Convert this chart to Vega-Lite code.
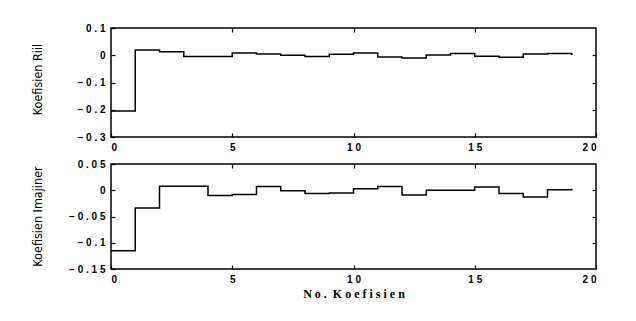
{
  "$schema": "https://vega.github.io/schema/vega-lite/v6.json",
  "background": "white",
  "padding": {"left": 30, "top": 22, "right": 10, "bottom": 5},
  "spacing": 5,
  "datasets": {
    "coef": [
      {"k": 0, "riil": -0.205, "imaj": -0.115},
      {"k": 1, "riil": 0.019, "imaj": -0.034},
      {"k": 2, "riil": 0.013, "imaj": 0.0075},
      {"k": 3, "riil": -0.005, "imaj": 0.0075},
      {"k": 4, "riil": -0.005, "imaj": -0.010},
      {"k": 5, "riil": 0.008, "imaj": -0.008},
      {"k": 6, "riil": 0.005, "imaj": 0.007},
      {"k": 7, "riil": 0.0, "imaj": -0.001},
      {"k": 8, "riil": -0.005, "imaj": -0.006},
      {"k": 9, "riil": 0.004, "imaj": -0.005},
      {"k": 10, "riil": 0.008, "imaj": 0.003},
      {"k": 11, "riil": -0.006, "imaj": 0.007},
      {"k": 12, "riil": -0.010, "imaj": -0.009},
      {"k": 13, "riil": 0.001, "imaj": 0.0},
      {"k": 14, "riil": 0.006, "imaj": 0.0},
      {"k": 15, "riil": -0.004, "imaj": 0.006},
      {"k": 16, "riil": -0.007, "imaj": -0.006},
      {"k": 17, "riil": 0.005, "imaj": -0.013},
      {"k": 18, "riil": 0.006, "imaj": 0.001},
      {"k": 19, "riil": 0.001, "imaj": 0.003}
    ]
  },
  "config": {
    "view": {"stroke": "black", "strokeWidth": 1.5},
    "axis": {
      "grid": false,
      "domain": false,
      "tickColor": "black",
      "tickSize": -4,
      "tickWidth": 1.2,
      "labelFont": "Liberation Sans",
      "labelFontWeight": "bold",
      "labelFontSize": 10,
      "labelColor": "black",
      "titleColor": "black"
    },
    "axisX": {"labelPadding": 9},
    "axisY": {"labelPadding": 10}
  },
  "vconcat": [
    {
      "width": 485,
      "height": 109,
      "data": {"name": "coef"},
      "layer": [
        {
          "mark": {"type": "line", "interpolate": "step-after", "color": "black", "strokeWidth": 1.5},
          "encoding": {
            "x": {"field": "k", "type": "quantitative", "scale": {"domain": [0, 20], "nice": false},
              "axis": {"values": [0, 5, 10, 15, 20], "title": null, "labelExpr": "join(split(format(datum.value, '~g'), ''), ' ')"}},
            "y": {"field": "riil", "type": "quantitative", "scale": {"domain": [-0.3, 0.1], "nice": false, "zero": false},
              "axis": {"values": [-0.3, -0.2, -0.1, 0, 0.1], "labelExpr": "join(split(format(datum.value, '~g'), ''), ' ')",
                "title": "Koefisien Riil", "titleFont": "'DejaVu Sans Condensed', 'Liberation Sans', sans-serif", "titleFontWeight": "normal", "titleFontSize": 12.5,
                "titleX": -74, "titleY": 51, "titleAngle": -90, "titleAlign": "center", "titleBaseline": "middle"}}
          }
        },
        {
          "mark": {"type": "line", "interpolate": "step-after", "opacity": 0},
          "encoding": {
            "x": {"field": "k", "type": "quantitative", "axis": {"orient": "top", "values": [5, 10, 15], "labels": false, "title": null}},
            "y": {"field": "riil", "type": "quantitative", "axis": {"orient": "right", "values": [-0.2, -0.1, 0], "labels": false, "title": null}}
          }
        }
      ],
      "resolve": {"axis": {"x": "independent", "y": "independent"}}
    },
    {
      "width": 485,
      "height": 105,
      "data": {"name": "coef"},
      "layer": [
        {
          "mark": {"type": "line", "interpolate": "step-after", "color": "black", "strokeWidth": 1.5},
          "encoding": {
            "x": {"field": "k", "type": "quantitative", "scale": {"domain": [0, 20], "nice": false},
              "axis": {"values": [0, 5, 10, 15, 20], "labelExpr": "join(split(format(datum.value, '~g'), ''), ' ')",
                "title": "N\u00a0o\u00a0.\u00a0\u00a0K\u00a0o\u00a0e\u00a0f\u00a0i\u00a0s\u00a0i\u00a0e\u00a0n", "titleFont": "Liberation Serif", "titleFontWeight": "bold", "titleFontSize": 12, "titlePadding": 4}},
            "y": {"field": "imaj", "type": "quantitative", "scale": {"domain": [-0.15, 0.05], "nice": false, "zero": false},
              "axis": {"values": [-0.15, -0.1, -0.05, 0, 0.05], "labelExpr": "join(split(format(datum.value, '~g'), ''), ' ')",
                "title": "Koefisien Imajiner", "titleFont": "'DejaVu Sans Condensed', 'Liberation Sans', sans-serif", "titleFontWeight": "normal", "titleFontSize": 12.5,
                "titleX": -74, "titleY": 52, "titleAngle": -90, "titleAlign": "center", "titleBaseline": "middle"}}
          }
        },
        {
          "mark": {"type": "line", "interpolate": "step-after", "opacity": 0},
          "encoding": {
            "x": {"field": "k", "type": "quantitative", "axis": {"orient": "top", "values": [5, 10, 15], "labels": false, "title": null}},
            "y": {"field": "imaj", "type": "quantitative", "axis": {"orient": "right", "values": [-0.1, -0.05, 0], "labels": false, "title": null}}
          }
        }
      ],
      "resolve": {"axis": {"x": "independent", "y": "independent"}}
    }
  ]
}
